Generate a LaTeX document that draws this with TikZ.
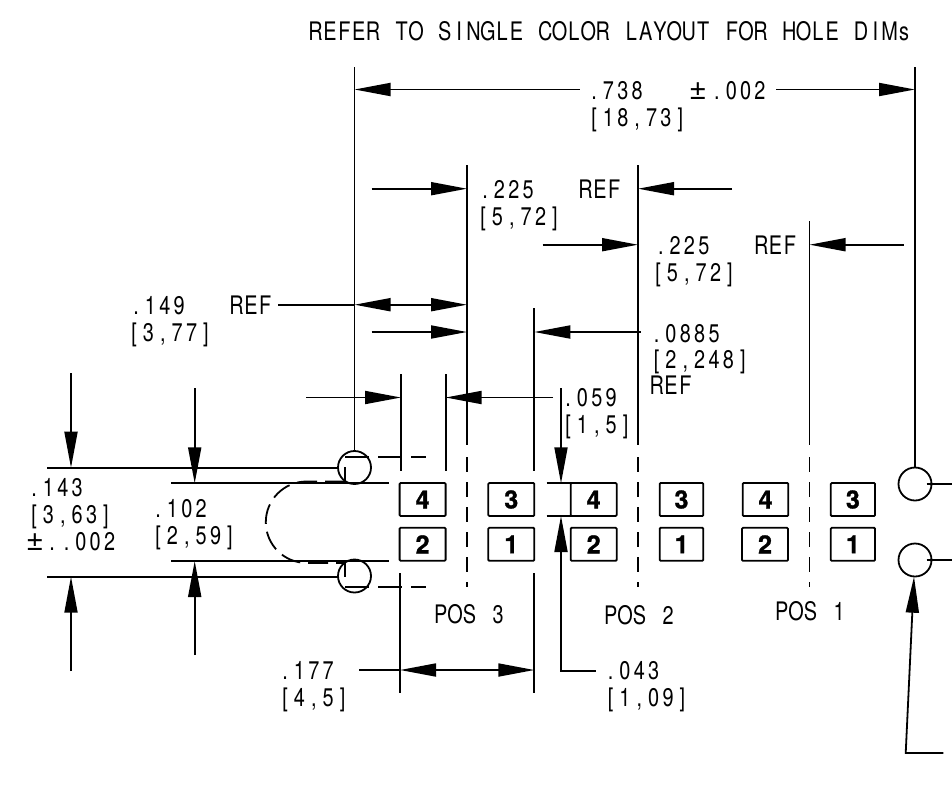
\documentclass[tikz,border=0pt]{standalone}
\usepackage{fontspec}
\usetikzlibrary{arrows.meta}
\newfontfamily\dimfont[FakeStretch=0.78]{TeX Gyre Heros}
\newfontfamily\pmfont{TeX Gyre Heros}
\newfontfamily\numfont[FakeBold=1.2]{TeX Gyre Heros Bold}
\makeatletter
\newcommand{\cells}[1]{\@tfor\my@c:=#1\do{\makebox[14.35pt][c]{\my@c}}}
\makeatother
\newcommand{\pmbox}[1]{\makebox[#1][c]{\pmfont\fontsize{31}{31}\selectfont\char"00B1}}
\tikzset{
  lin/.style={line width=1.8pt,line cap=butt},
  arr/.style={lin,-{Triangle[length=36pt,width=13pt]}},
  arrl/.style={lin,{Triangle[length=36pt,width=13pt]}-},
  arrb/.style={lin,{Triangle[length=36pt,width=13pt]}-{Triangle[length=36pt,width=13pt]}},
  cl/.style={lin,dash pattern=on 15pt off 10pt},
  dimt/.style={anchor=base west,inner sep=0pt,outer sep=0pt,font=\dimfont\fontsize{25.5}{25.5}\selectfont},
  bx/.style={draw,line width=1.8pt,rounded corners=1pt,minimum height=33pt,inner sep=0pt,
    font=\numfont\fontsize{25}{25}\selectfont},
  hole/.style={lin}
}
\begin{document}
\begin{tikzpicture}[x=1pt,y=-1pt]
\useasboundingbox (0,0) rectangle (952,801);
% ---- text
\node[dimt] (title) at (308.5,40) {\cells{REFER~TO~SINGLE~COLOR~LAYOUT~FOR~HOLE~DIMs}};
\node[dimt] (d738a) at (587,99) {\cells{.738}\hspace{41.4pt}\pmbox{24pt}\cells{.002}};
\node[dimt] (d738b) at (587,126) {\cells{[18,73]}};
\node[dimt] (d225a) at (478,198) {\cells{.225~~~REF}};
\node[dimt] (d225b) at (476,225) {\cells{[5,72]}};
\node[dimt] (d225c) at (653.6,254) {\cells{.225~~~REF}};
\node[dimt] (d225d) at (651,281) {\cells{[5,72]}};
\node[dimt] (d149a) at (129,314) {\cells{.149~~~REF}};
\node[dimt] (d149b) at (127,341) {\cells{[3,77]}};
\node[dimt] (d0885a) at (649.5,342) {\cells{.0885}};
\node[dimt] (d0885b) at (649.5,368) {\cells{[2,248]}};
\node[dimt] (d0885c) at (649.5,394) {\cells{REF}};
\node[dimt] (d059a) at (561,406) {\cells{.059}};
\node[dimt] (d059b) at (561,433) {\cells{[1,5]}};
\node[dimt] (d143a) at (27,496) {\cells{.143}};
\node[dimt] (d143b) at (27,523) {\cells{[3,63]}};
\node[dimt] (d143c) at (25,550) {\pmbox{20pt}\cells{..002}};
\node[dimt] (d102a) at (151,517) {\cells{.102}};
\node[dimt] (d102b) at (151,544) {\cells{[2,59]}};
\node[dimt] (pos3) at (433.5,623) {\cells{POS~3}};
\node[dimt] (pos2) at (603.5,624) {\cells{POS~2}};
\node[dimt] (pos1) at (774.5,620.7) {\cells{POS~1}};
\node[dimt] (d177a) at (278,679) {\cells{.177}};
\node[dimt] (d177b) at (278,706) {\cells{[4,5]}};
\node[dimt] (d043a) at (603.5,679) {\cells{.043}};
\node[dimt] (d043b) at (603.5,706) {\cells{[1,09]}};
% ---- boxes
\node[bx,minimum width=46pt] (p3a) at (422.6,499.5) {4};
\node[bx,minimum width=46pt] (p3b) at (422.6,544.3) {2};
\node[bx,minimum width=46pt] (p3c) at (511.3,499.5) {3};
\node[bx,minimum width=46pt] (p3d) at (511.3,544.3) {1};
\node[bx,minimum width=46pt] (p2a) at (593.7,499.5) {4};
\node[bx,minimum width=46pt] (p2b) at (593.7,544.3) {2};
\node[bx,minimum width=43.6pt] (p2c) at (681.5,499.5) {3};
\node[bx,minimum width=43.6pt] (p2d) at (681.5,544.3) {1};
\node[bx,minimum width=45.6pt] (p1a) at (765.5,499.5) {4};
\node[bx,minimum width=46pt] (p1b) at (765,544.3) {2};
\node[bx,minimum width=44.3pt] (p1c) at (852.9,499.5) {3};
\node[bx,minimum width=44.3pt] (p1d) at (852.9,544.3) {1};
% ---- holes
\draw[hole] (354.5,467.5) circle (16.5);
\draw[hole] (354.5,576) circle (16.5);
\draw[hole] (915,484) circle (16.5);
\draw[hole] (915,560) circle (16.5);
\draw[lin] (926.7,484) -- (952,484);
\draw[lin] (926.7,560) -- (952,560);
% ---- extension lines
\draw[lin] (354.5,67) -- (354.5,451);
\draw[lin] (915,67) -- (915,467.5);
\draw[lin] (467,165) -- (467,445);
\draw[lin] (638,165) -- (638,445);
\draw[lin] (809.5,221) -- (809.5,445);
\draw[lin] (534.3,308) -- (534.3,471);
\draw[lin] (534.3,573) -- (534.3,693);
\draw[lin] (401,374) -- (401,471);
\draw[lin] (400,573) -- (400,693);
\draw[lin] (445.6,374) -- (445.6,471);
\draw[cl] (467,457) -- (467,587);
\draw[cl] (638,457) -- (638,587);
\draw[cl] (809.5,457) -- (809.5,587);
\draw[lin] (47,467.7) -- (338,467.7);
\draw[lin] (47,576.7) -- (338,576.7);
\draw[lin] (171,483.3) -- (389,483.3);
\draw[lin] (171,561) -- (389,561);
\draw[lin] (546.7,483.3) -- (585,483.3);
\draw[lin] (546.7,516) -- (585,516);
% ---- hidden lines
\draw[lin,dash pattern=on 24pt off 9pt] (345,457.3) -- (426,457.3);
\draw[lin,dash pattern=on 24pt off 9pt] (345,586.7) -- (426,586.7);
\draw[lin] (345,467) -- (345,482);
\draw[lin] (345,563) -- (345,577);
\draw[lin,dash pattern=on 20pt off 8pt] (345,481.5) -- (306.5,481.5) arc[start angle=-90,end angle=-270,radius=40.7] -- (345,563);
% ---- dimension arrows
\draw[arrl] (354.5,89.5) -- (580,89.5);
\draw[arr] (776,89.5) -- (915,89.5);
\draw[arr] (371.5,188.7) -- (467,188.7);
\draw[arr] (732,188.7) -- (638,188.7);
\draw[arr] (542.6,244.7) -- (638,244.7);
\draw[arr] (903.6,244.7) -- (809.5,244.7);
\draw[lin] (278,304.7) -- (354.5,304.7);
\draw[arrb] (354.5,304.7) -- (467,304.7);
\draw[arr] (371.5,332) -- (467,332);
\draw[arr] (640.7,332) -- (534.3,332);
\draw[arr] (306,397.5) -- (401,397.5);
\draw[arr] (553,397.5) -- (445.6,397.5);
\draw[arr] (71,373) -- (71,467.7);
\draw[arr] (71,671) -- (71,576.7);
\draw[arr] (194.7,388) -- (194.7,483.3);
\draw[arr] (194.7,655) -- (194.7,561);
\draw[arr] (561,388) -- (561,483.3);
\draw[arr] (595.7,670.7) -- (561,670.7) -- (561,516);
\draw[lin] (359,670) -- (400,670);
\draw[arrb] (400,670) -- (534.3,670);
\draw[arr] (943.3,753) -- (905.7,753) -- (914,576.7);
\end{tikzpicture}
\end{document}
